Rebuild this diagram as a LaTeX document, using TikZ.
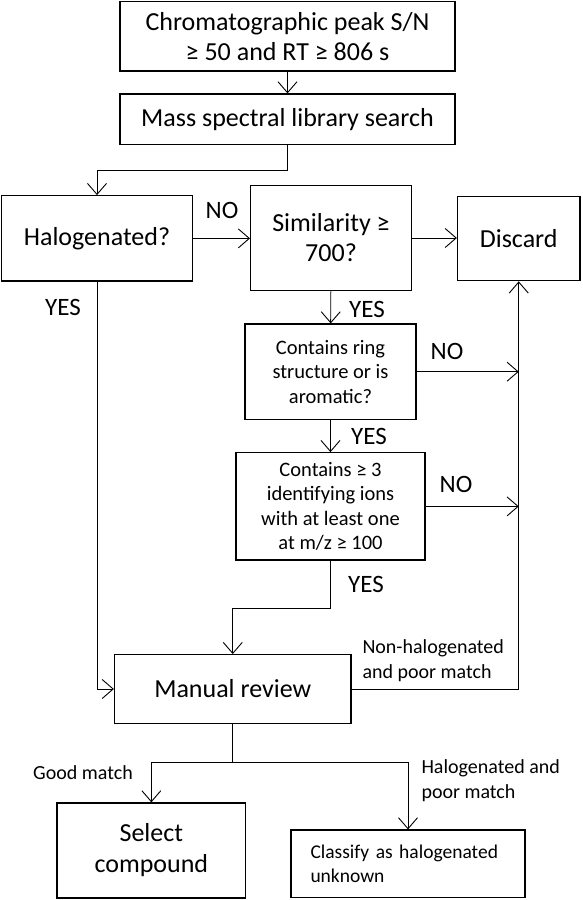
\documentclass[tikz,border=0pt]{standalone}
\usepackage{fontspec}
\setmainfont{Carlito}
\usepackage{tikz}
\usetikzlibrary{arrows.meta}
\tikzset{
  flowbox/.style = {draw, line width=1.3pt, align=center, inner sep=2pt},
  bigtext/.style = {font=\fontsize{26}{30}\selectfont},
  smalltext/.style = {font=\fontsize{20.5}{24.6}\selectfont},
  lab/.style = {font=\fontsize{25}{28}\selectfont},
  sidelab/.style = {font=\fontsize{20}{25}\selectfont, align=left},
  flow/.style = {line width=0.9pt, -{Straight Barb[length=11pt,width=19pt]}}
}

\begin{document}
\begin{tikzpicture}[x=1pt, y=-1pt]
\useasboundingbox (0,0) rectangle (582,900);

%%%%%%%%%%%%%%% boxes %%%%%%%%%%%%%%%%
\node [flowbox, bigtext, minimum width=335, minimum height=69.3] (peak) at (287.5,36.4)
  {Chromatographic peak S/N\\ ≥ 50 and RT ≥ 806 s};
\node [flowbox, bigtext, minimum width=335, minimum height=50.7] (libsearch) at (287.5,119.4)
  {Mass spectral library search};
\node [flowbox, bigtext, minimum width=190.6, minimum height=85.3] (halo) at (97,238.4)
  {Halogenated?};
\node [flowbox, bigtext, minimum width=160.7, minimum height=105.4] (simil) at (331,238)
  {Similarity ≥\\ 700?};
\node [flowbox, bigtext, minimum width=122.5, minimum height=84.4] (discard) at (518.75,238.5)
  {Discard};
\node [flowbox, smalltext, minimum width=171, minimum height=95.3] (ring) at (330.5,371.7)
  {Contains ring\\ structure or is\\ aromatic?};
\node [flowbox, smalltext, minimum width=189, minimum height=107.3] (ions) at (330.5,506.4)
  {Contains ≥ 3\\ identifying ions\\ with at least one\\ at m/z ≥ 100};
\node [flowbox, bigtext, minimum width=236.5, minimum height=68.6] (manual) at (232.75,689)
  {Manual review};
\node [flowbox, font=\fontsize{26}{31}\selectfont, minimum width=188.7, minimum height=95] (select) at (151.35,850.5)
  {Select\\ compound};
\node [flowbox, font=\fontsize{19.5}{23.3}\selectfont, align=left, text width=195, inner xsep=19.5,
  minimum height=67.3] (classify) at (408,863.7)
  {Classify as halogenated\\ unknown};

%%%%%%%%%%%%%%% connectors %%%%%%%%%%%%%%%%
\coordinate (split1) at (287.5,170);
\coordinate (split2) at (330.5,608.3);
\coordinate (split3) at (232.75,762.7);

\draw [flow] (peak) -- (libsearch);
\draw [flow] (libsearch.south) -- (split1) -| (halo.north);
\draw [flow] (halo.east) -- (halo.east -| simil.west);
\draw [flow] (simil.east) -- (simil.east -| discard.west);
\draw [flow] (simil) -- (ring);
\draw [flow] (ring) -- (ions);
\draw [flow] (ring.east) -- (ring.east -| discard.south);
\draw [flow] (ions.east) -- (ions.east -| discard.south);
\draw [flow] (ions.south) -- (split2) -| (manual.north);
\draw [flow] (halo.south) |- (manual.west);
\draw [flow] (manual.east) -| (discard.south);
\draw [line width=0.9pt] (manual.south) -- (split3);
\draw [flow] (split3) -| (select.north);
\draw [flow] (split3) -| (classify.north);

%%%%%%%%%%%%%%% labels %%%%%%%%%%%%%%%%
\node [lab] (no1) at (222,210) {NO};
\node [lab] (yes1) at (63,307) {YES};
\node [lab] (yes2) at (367,309) {YES};
\node [lab] (no2) at (447,351.7) {NO};
\node [lab] (yes3) at (369,436) {YES};
\node [lab] (no3) at (456,484) {NO};
\node [lab] (yes4) at (366,584.3) {YES};
\node [sidelab, anchor=west] (poor1) at (359,660.2) {Non-halogenated\\ and poor match};
\node [sidelab] (good) at (83,772.3) {Good match};
\node [sidelab, anchor=west] (poor2) at (418,780.8) {Halogenated and\\ poor match};

\end{tikzpicture}
\end{document}
